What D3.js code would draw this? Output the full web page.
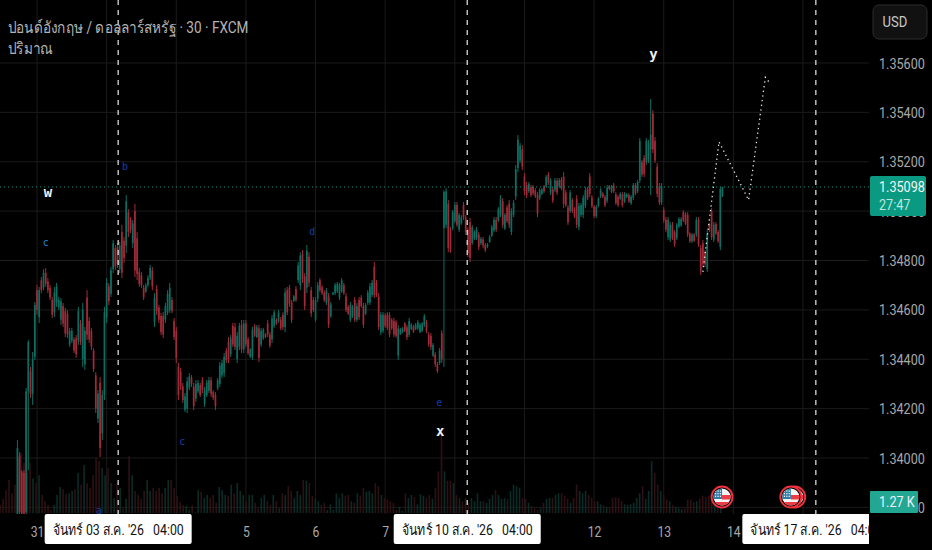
<!DOCTYPE html>
<html>
<head>
<meta charset="utf-8">
<script src="https://cdn.jsdelivr.net/npm/d3@7"></script>
<style>
html, body { margin: 0; background: #000; overflow: hidden; }
svg { display: block; }
text { font-family: Roboto, "Noto Sans", sans-serif; }
</style>
</head>
<body>
<svg id="chart" width="932" height="550"></svg>
<script>
/* prices are stored as points above basePrice (1 point = 0.00001) */
var basePrice = 1.34;
var currentPrice = 1.35098;
var currentCountdown = "27:47";
var currentVolume = 1.27;

var titleText = "ปอนด์อังกฤษ / ดอลลาร์สหรัฐ · 30 · FXCM";
var volumeTitle = "ปริมาณ";
var currency = "USD";

var priceTicks = [1.338, 1.34, 1.342, 1.344, 1.346, 1.348, 1.35, 1.352, 1.354, 1.356];
var dayIndex = [0, 32, 64, 96, 128, 160, 192, 224, 256, 288, 320, 352];
/* the days under a date chip have no label of their own */
var labelledDays = [0, 96, 128, 160, 256, 288, 320];
var labelledNames = ["31", "5", "6", "7", "12", "13", "14"];

var firstBar = -9;
var highs = [
  73,24,-49,-49,284,478,369,429,632,701, 693,733,765,770,729,701,652,693,709,652,
  648,628,608,599,527,527,490,498,612,559, 628,531,680,571,527,446,348,275,328,275,
  612,729,709,774,883,863,871,875,944,895, 1065,1008,976,964,1029,915,770,753,701,709,
  741,782,774,668,701,620,587,591,628,680, 709,652,567,531,385,365,304,263,328,344,
  336,304,316,316,304,328,288,316,328,328, 275,267,324,389,397,425,446,490,498,
  547,547,510,547,559,559,559,490,446,531, 543,539,539,527,527,506,559,510,579,599,
  567,599,571,591,688,693,701,640,660,697, 794,834,842,749,863,834,693,652,652,713,
  729,700,680,688,668,632,672,709,713,709, 729,709,668,620,632,620,652,628,652,660,
  628,628,680,709,721,794,721,668,591,591, 587,591,591,567,567,559,539,527,531,551,
  539,567,547,539,547,559,547,551,583,559, 510,506,466,429,389,446,518,
  1085,
  1093,1045,936,1004,1037,1037,992,984,1037,984, 936,972,944,923,936,915,895,895,871,871,
  903,944,976,976,1016,1065,1053,992,1025,1045, 1012,1045,1187,1308,1276,1268,1154,1118,1118,1106,
  1106,1093,1077,1093,1093,1106,1146,1158,1134,1098, 1134,1134,1134,1138,1158,1085,1025,1085,1053,1016,
  1065,1033,1033,1065,1098,1098,1154,1065,1025,1025, 1057,1093,1077,1065,1106,1106,1106,1114,1077,1065,
  1077,
  1077,1077,1073,1073,1065,1114,1114,1126,1296,1207, 1227,1296,1288,1454,1409,1300,1195,1114,1114,1016,
  976,976,956,956,923,952,976,976,1004,996, 996,915,911,911,976,976,863,883,842,923,
  952,1012,956,956,923,1098,1098
];
var lows = [
  -250,-231,-231,-231,-231,-49,243,215,397,580, 547,668,680,693,668,640,567,571,612,599,
  539,531,490,486,450,466,425,405,458,458, 369,356,478,466,437,348,182,142,4,73,
  235,547,620,652,749,761,770,749,729,790, 830,895,911,850,733,721,693,689,640,668,
  693,721,680,531,580,547,498,486,547,579, 587,587,478,385,235,275,223,186,182,275,
  288,194,227,263,247,263,207,247,263,247, 235,194,275,288,324,328,385,385,409,
  450,437,385,437,425,425,450,417,405,397, 490,486,389,450,478,486,490,446,466,527,
  539,547,518,518,510,579,612,547,632,632, 709,680,709,599,668,693,571,591,551,632,
  672,660,632,620,527,567,660,660,668,640, 668,660,591,579,551,567,551,551,559,608,
  527,579,620,620,652,648,652,518,498,506, 527,518,490,518,490,486,397,498,506,510,
  478,490,518,506,518,518,506,510,531,506, 450,437,409,369,344,377,385,
  369,
  931,834,830,923,952,936,915,944,964,903, 814,794,863,883,883,842,863,850,834,850,
  871,895,915,915,956,976,931,923,952,931, 903,976,1045,1158,1195,1166,1065,1053,1073,1057,
  1065,1053,976,1045,1065,1073,1093,1106,1065,1033, 1077,1065,1093,1085,1012,1016,944,992,992,972,
  931,923,976,972,1012,1045,1057,1012,972,972, 1016,1053,1053,1016,1033,1085,1073,1073,1025,1016,
  1045,
  1016,1033,1053,1033,1025,1045,1065,1073,1114,1138, 1138,1187,1195,1065,1235,1195,1057,1025,1025,952,
  915,883,875,883,855,883,931,936,956,944, 895,871,871,875,895,855,741,774,774,753,
  915,883,875,903,871,842,1057
];
var opens = [
  -230,10,-55,-60,-220,270,350,260,410,680, 570,720,690,750,715,690,640,590,630,610,
  560,615,595,585,460,475,480,485,475,545, 400,380,650,555,515,435,335,160,305,100,
  255,570,695,665,765,850,855,765,915,880, 860,995,965,870,1000,890,755,740,690,675,
  700,730,760,550,685,610,575,575,560,590, 600,640,555,515,370,350,290,195,200,285,
  325,290,240,270,295,315,220,255,272,315, 268,255,282,300,335,345,435,470,420,
  535,530,400,450,540,440,545,480,410,410, 535,490,525,460,485,500,545,500,480,535,
  560,555,560,580,530,680,690,630,636,685, 720,700,825,735,690,815,680,640,560,645,
  720,692,670,630,655,575,662,668,675,650, 675,700,655,612,560,575,640,560,640,650,
  615,585,628,630,660,775,710,655,510,515, 578,580,578,560,555,550,415,502,510,545,
  530,500,522,532,522,525,510,515,540,550, 500,495,415,420,380,385,505,
  931,
  945,1030,925,930,960,1025,925,950,1025,975, 925,955,870,890,890,905,870,885,862,855,
  875,900,922,965,962,985,1040,930,1015,1030, 915,985,1060,1175,1205,1250,1140,1105,1080,1098,
  1098,1085,1065,1052,1070,1100,1100,1148,1075,1088, 1085,1122,1100,1128,1140,1075,1015,1000,1045,1008,
  1050,935,985,985,1022,1090,1140,1055,1018,980, 1022,1060,1072,1058,1042,1100,1078,1105,1068,1058,
  1050,
  1068,1040,1057,1065,1032,1055,1105,1080,1125,1198, 1215,1198,1205,1250,1395,1285,1180,1100,1035,1005,
  965,895,885,945,915,892,938,942,995,988, 985,908,878,905,905,965,850,870,835,765,
  945,1000,885,948,915,855,1060
];
var closes = [
  40,-220,-225,-225,270,470,260,400,620,600, 680,680,750,705,680,650,580,670,695,640,
  635,545,505,500,515,515,435,420,595,470, 600,515,500,480,450,360,200,260,40,255,
  590,710,635,760,870,775,785,860,750,810, 1040,915,925,950,760,745,705,700,650,700,
  730,770,695,650,595,560,510,500,615,665, 690,595,490,405,255,290,235,250,310,330,
  300,210,300,305,255,275,275,305,315,260, 245,210,315,375,385,410,395,400,485,
  460,450,495,535,440,545,460,425,440,520, 495,530,405,515,520,490,500,455,565,590,
  545,590,525,530,670,590,625,560,655,640, 780,820,725,615,840,710,585,600,640,700,
  680,668,640,678,540,622,670,700,705,700, 720,668,600,585,620,612,560,615,570,615,
  540,620,670,695,710,660,660,530,580,580, 535,528,500,525,500,495,525,520,525,515,
  490,555,540,512,540,550,540,545,575,515, 460,450,458,380,352,435,400,
  1077,
  1080,850,845,995,1025,945,985,975,975,915, 830,810,935,915,925,855,888,860,842,865,
  895,935,965,925,1008,1050,945,985,960,945, 1000,1035,1170,1290,1265,1180,1080,1065,1110,1065,
  1072,1060,990,1085,1088,1080,1138,1115,1125,1042, 1125,1075,1126,1092,1030,1025,955,1075,1000,980,
  945,1020,1025,1055,1085,1052,1070,1020,980,1018, 1050,1085,1058,1025,1095,1090,1100,1080,1033,1025,
  1070,
  1025,1070,1068,1040,1058,1105,1072,1118,1285,1148, 1150,1285,1275,1310,1250,1205,1070,1035,1100,962,
  925,965,945,892,865,945,968,968,962,950, 905,878,905,880,965,865,755,785,785,910,
  922,895,945,910,878,1090,1098
];

/* volume in thousands, one sample for every barsPerVolume bars starting at firstVolumeBar */
var firstVolumeBar = -17;
var barsPerVolume = 1.38;
var volumes = [
  1,1.8,2.9,4.2,2.5,3.6,7,7.6,6.4,5.1, 6.4,4.4,3.8,4.8,2.3,1.5,1,.4,1,2.3,
  3.3,3,2.4,2.5,2.8,3,5.1,3.6,6.1,3.8, 3.2,4.8,7,6.6,5.7,4.8,5.7,3.8,1.9,3.8,
  3.2,.6,1.8,7.2,4.8,2.8,2.3,1.8,2.8,4.2, 2.8,3.2,2.8,3.2,2.5,3.2,4.2,4.2,3.2,2.2,
  1.4,1,.9,.4,1,.1,2.9,2.7,1.9,2.3, 1.9,2.3,1.3,3.3,2.9,2.3,2.2,3.6,2.5,3.8,
  2.8,2.3,1.5,2.3,2.3,1.3,.6,1.9,2.3,1.5, 1,2.3,1.5,.6,2.5,2.3,3.4,2.8,1.9,2.8,
  2.3,4.2,4.1,3.8,2.2,1.8,1.5,1,1.3,.4, 1.1,.4,2.5,1.9,2.5,2.2,2.3,1.5,1.3,2.5,
  2.2,3.2,2.7,2.8,2.5,3.8,3.4,2.3,1.9,1.7, 1.5,1.3,.4,.8,.3,2.5,1.9,2.3,2,1.1,
  2.4,2.2,1.9,2.3,1.8,3.2,5.3,9.8,5.3,4.1, 4.1,3.8,2.3,1.9,1.5,
  1.9,1.3,1.9,1.5,2.5, 1.5,1.5,1.3,1.8,2.3,2.9,2.3,1.8,1.9,1.8, 2.8,3.6,3.4,3.2,1.9,1.8,1.3,.9,.6,.4,
  .6,1.3,1.8,1.9,1.9, 2.3,2.5,2.5,2.2,1.8,1.3,1.9,3.6,2.8,2.5, 2.8,2.3,1.9,1.5,1.5,1.1,1,.8,.6,1.9,
  2,1.9,1.5,1.1,1, 1.1,1.3,1.9,2.5,3.4,1.8,2.8,6.6,5.1,3.6, 2.8,2.3,1.7,1.5,1,.8,.6,.5,.6,1.7,
  1.7,1.4,1.5,1.8,2.2, 2,2.2,1.8,1.5,1.3,1.27
];

/* projected path, hand drawn on the chart */
var forecastBars = [306, 313.4, 327, 334.7, 336.9];
var forecastPoints = [754, 1281, 1045, 1542, 1517];

/* wave labels */
var waveLabels = ["w", "c", "b", "a", "c", "d", "e", "x", "y"];
var waveBars = [5, 4, 40.5, 28.5, 66.7, 126.5, 184.8, 185.3, 283.3];
var wavePoints = [1074, 869, 1180, -215, 65, 915, 222, 105, 1632];
var waveColors = ["#f2f2f2", "#1b87c9", "#0d3fa8", "#0d3fa8", "#0d3fa8", "#0d3fa8", "#0d3fa8", "#f2f2f2", "#f2f2f2"];

/* session break markers with their date labels */
var sessionBars = [37.3, 197.7, 357.9];
var sessionLabels = ["จันทร์ 03 ส.ค. '26   04:00", "จันทร์ 10 ส.ค. '26   04:00", "จันทร์ 17 ส.ค. '26   04:00"];

/* upcoming US events, back to front */
var eventBars = [348.2, 314.8, 346.4];

function price(p) { return basePrice + p / 100000; }

var paneWidth = 869, paneBottom = 514;
var svg = d3.select('#chart');

var x = d3.scaleLinear().domain([0, 352]).range([37, 803]);
var y = d3.scaleLinear().domain([1.34, 1.356]).range([458, 63]);
var yVol = d3.scaleLinear().domain([0, 1.27]).range([513, 503]);

svg.append('rect').attr('width', 932).attr('height', 550).attr('fill', '#000');

var defs = svg.append('defs');
defs.append('clipPath').attr('id', 'pane').append('rect')
    .attr('width', paneWidth).attr('height', paneBottom);
defs.append('clipPath').attr('id', 'timeClip').append('rect')
    .attr('width', paneWidth).attr('height', 550);

var pane = svg.append('g').attr('clip-path', 'url(#pane)');

/* grid */
pane.selectAll('.hgrid').data(priceTicks).enter().append('line')
    .attr('x1', 0).attr('x2', paneWidth)
    .attr('y1', function(d) { return y(d); })
    .attr('y2', function(d) { return y(d); })
    .attr('stroke', '#1b1b1b');
pane.selectAll('.vgrid').data(dayIndex).enter().append('line')
    .attr('y1', 0).attr('y2', paneBottom)
    .attr('x1', function(d) { return x(d); })
    .attr('x2', function(d) { return x(d); })
    .attr('stroke', '#1b1b1b');

/* volume */
function isDown(bar) {
    var i = Math.round(bar) - firstBar;
    return i < 0 || i >= closes.length || closes[i] < opens[i];
}
pane.selectAll('.vol').data(volumes).enter().append('rect')
    .attr('x', function(d, i) { return x(firstVolumeBar + i * barsPerVolume) - 0.8; })
    .attr('width', 1.6)
    .attr('y', function(d) { return yVol(d); })
    .attr('height', function(d) { return yVol(0) - yVol(d); })
    .attr('fill', function(d, i) { return isDown(firstVolumeBar + i * barsPerVolume) ? '#2e1114' : '#0a2c27'; });

/* candles */
var upColor = '#0c6e60', downColor = '#a02a38';
function barColor(i) { return closes[i] < opens[i] ? downColor : upColor; }

pane.selectAll('.wick').data(highs).enter().append('rect')
    .attr('x', function(d, i) { return x(firstBar + i) - 0.5; })
    .attr('width', 1)
    .attr('y', function(d) { return y(price(d)); })
    .attr('height', function(d, i) { return y(price(lows[i])) - y(price(d)); })
    .attr('fill', function(d, i) { return barColor(i); });
pane.selectAll('.body').data(highs).enter().append('rect')
    .attr('x', function(d, i) { return x(firstBar + i) - 0.85; })
    .attr('width', 1.7)
    .attr('y', function(d, i) { return y(price(Math.max(opens[i], closes[i]))); })
    .attr('height', function(d, i) { return Math.abs(y(price(opens[i])) - y(price(closes[i]))); })
    .attr('fill', function(d, i) { return barColor(i); });

/* last price line */
pane.append('line')
    .attr('x1', 0).attr('x2', paneWidth)
    .attr('y1', y(currentPrice)).attr('y2', y(currentPrice))
    .attr('stroke', '#0f8f78').attr('stroke-dasharray', '1 3');

/* session markers */
pane.selectAll('.session').data(sessionBars).enter().append('line')
    .attr('x1', function(d) { return x(d); })
    .attr('x2', function(d) { return x(d); })
    .attr('y1', 0).attr('y2', paneBottom)
    .attr('stroke', '#d8d8d8').attr('stroke-width', 1.3).attr('stroke-dasharray', '5 5');

/* forecast */
var forecastLine = d3.line()
    .x(function(d, i) { return x(forecastBars[i]); })
    .y(function(d) { return y(price(d)); });
pane.append('path').datum(forecastPoints)
    .attr('d', forecastLine)
    .attr('fill', 'none')
    .attr('stroke', '#e8e8e8').attr('stroke-width', 1.3).attr('stroke-dasharray', '1.3 3.4');

/* wave labels */
pane.selectAll('.wave').data(waveLabels).enter().append('text')
    .attr('x', function(d, i) { return x(waveBars[i]); })
    .attr('y', function(d, i) { return y(price(wavePoints[i])); })
    .attr('dy', '.3em')
    .attr('text-anchor', 'middle')
    .style('font-family', '"DejaVu Sans Mono", monospace')
    .attr('font-weight', function(d, i) { return waveColors[i] === '#f2f2f2' ? 'bold' : 'normal'; })
    .attr('font-size', function(d, i) { return waveColors[i] === '#f2f2f2' ? 14 : 10; })
    .attr('fill', function(d, i) { return waveColors[i]; })
    .text(function(d) { return d; });

/* US flag event badges */
function drawFlag(g, cx, id) {
    var cy = 497;
    var clip = defs.append('clipPath').attr('id', 'flag' + id);
    clip.append('circle').attr('cx', cx).attr('cy', cy).attr('r', 8.6);
    g.append('circle').attr('cx', cx).attr('cy', cy).attr('r', 10.5)
        .attr('fill', '#000').attr('stroke', '#f0323f').attr('stroke-width', 1.9);
    var f = g.append('g').attr('clip-path', 'url(#flag' + id + ')');
    f.append('rect').attr('x', cx - 9).attr('y', cy - 9).attr('width', 18).attr('height', 18).attr('fill', '#f4f4f4');
    f.append('rect').attr('x', cx).attr('y', cy - 2).attr('width', 9).attr('height', 4.5).attr('fill', '#ef3b45');
    f.append('rect').attr('x', cx - 9).attr('y', cy + 5).attr('width', 18).attr('height', 4).attr('fill', '#ef3b45');
    f.append('rect').attr('x', cx - 9).attr('y', cy - 9).attr('width', 9).attr('height', 11).attr('fill', '#2f7aa6');
    for (var r = 0; r < 3; r++) {
        for (var c = 0; c < 3; c++) {
            f.append('rect').attr('x', cx - 7 + c * 2.4).attr('y', cy - 6.5 + r * 2.6)
                .attr('width', 1.2).attr('height', 1.2).attr('fill', '#fff');
        }
    }
}
var eventLayer = svg.append('g');
eventBars.forEach(function(d, k) { drawFlag(eventLayer, x(d), k); });

/* title */
function squeezed(sel, tx, ty, sx) {
    return sel.attr('transform', 'translate(' + tx + ',' + ty + ') scale(' + sx + ',1)');
}
squeezed(svg.append('text').text(titleText), 8, 33, 0.85)
    .attr('font-size', 16).attr('fill', '#b4b4b4');
squeezed(svg.append('text').text(volumeTitle), 8, 54, 0.85)
    .attr('font-size', 16).attr('fill', '#b4b4b4');

/* price axis */
var yAxis = d3.axisRight(y).tickValues(priceTicks).tickSize(0).tickFormat(d3.format('.5f'));
var yg = svg.append('g').call(yAxis);
yg.select('.domain').remove();
yg.selectAll('text')
    .attr('x', 0).attr('dy', '.35em')
    .attr('transform', 'translate(879,0) scale(.87,1)')
    .attr('font-size', 14.5).style('font-family', 'Roboto').attr('fill', '#a8a8a8');

/* time axis */
var xAxis = d3.axisBottom(x).tickValues(labelledDays).tickSize(0)
    .tickFormat(function(d, i) { return labelledNames[i]; });
var xg = svg.append('g').attr('transform', 'translate(0,527)').call(xAxis);
xg.select('.domain').remove();
xg.selectAll('text')
    .attr('x', 0).attr('y', 0).attr('dy', '.7em')
    .attr('font-size', 14).style('font-family', 'Roboto').attr('fill', '#a8a8a8')
    .attr('transform', 'scale(.87,1)');

/* session date chips */
var timeLayer = svg.append('g').attr('clip-path', 'url(#timeClip)');
var chips = timeLayer.selectAll('.chip').data(sessionBars).enter().append('g')
    .attr('transform', function(d) { return 'translate(' + x(d) + ',514)'; });
chips.append('rect')
    .attr('x', -73.5).attr('width', 147).attr('height', 30).attr('rx', 2)
    .attr('fill', '#fff');
chips.append('text')
    .attr('transform', 'translate(0,21) scale(.85,1)')
    .attr('text-anchor', 'middle')
    .attr('font-size', 14.5).attr('fill', '#111')
    .style('white-space', 'pre')
    .text(function(d, i) { return sessionLabels[i]; });

/* currency button */
svg.append('rect').attr('x', 873).attr('y', 5).attr('width', 54).attr('height', 34).attr('rx', 6)
    .attr('fill', '#111').attr('stroke', '#2c2c2c');
squeezed(svg.append('text').text(currency), 882.5, 27, 0.9)
    .attr('font-size', 14.5).attr('fill', '#c8c8c8');

/* last price box */
svg.append('rect').attr('x', 870).attr('y', 176).attr('width', 56).attr('height', 40).attr('rx', 2).attr('fill', '#0a9a82');
squeezed(svg.append('text').text(d3.format('.5f')(currentPrice)), 879, 192, 0.87)
    .attr('font-size', 14.5).attr('fill', '#f4f4f4');
squeezed(svg.append('text').text(currentCountdown), 879, 210, 0.87)
    .attr('font-size', 14.5).attr('fill', '#bfe5dc');

/* last volume box */
svg.append('rect').attr('x', 870).attr('y', 491).attr('width', 48).attr('height', 22).attr('rx', 1).attr('fill', '#22a792');
squeezed(svg.append('text').text(currentVolume + ' K'), 879, 507, 0.87)
    .attr('font-size', 14.5).attr('fill', '#eef');
</script>
</body>
</html>
